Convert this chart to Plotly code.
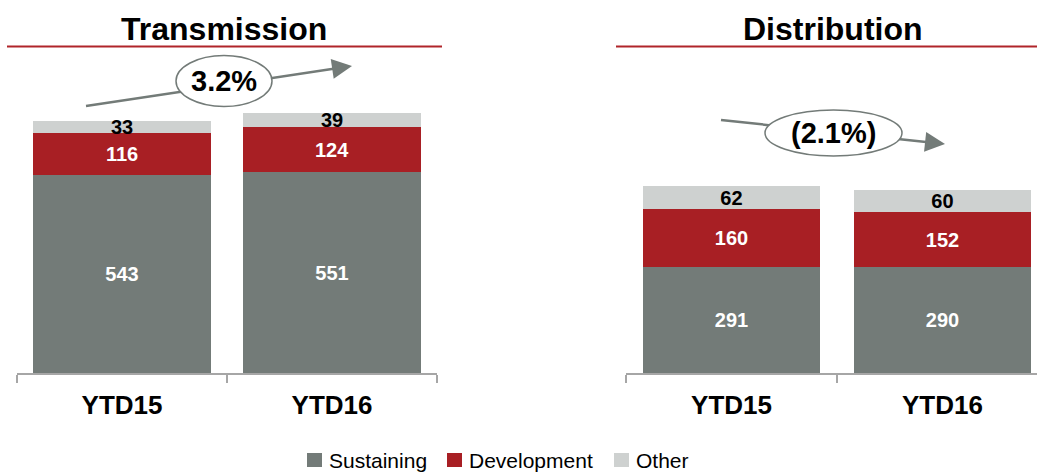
import plotly.graph_objects as go

W, H = 1037, 472
OFF = 0  # page body margin removed by post_script

categories = ["YTD15", "YTD16"]
series_names = ["Sustaining", "Development", "Other"]
trans_sustaining = [543, 551]
trans_development = [116, 124]
trans_other = [33, 39]
dist_sustaining = [291, 290]
dist_development = [160, 152]
dist_other = [62, 60]
panel_titles = ["Transmission", "Distribution"]
growth_labels = ["3.2%", "(2.1%)"]

colors = {"Sustaining": "#737B78", "Development": "#A81F24", "Other": "#CED1D0"}
text_colors = {"Sustaining": "white", "Development": "white", "Other": "black"}
FONT = "Liberation Sans, Arial, sans-serif"


def X(px):
    return (px - OFF) / W


def Y(py):
    return (H - (py - OFF)) / H


fig = go.Figure()

panels = [
    ("x", "y", [trans_sustaining, trans_development, trans_other]),
    ("x2", "y2", [dist_sustaining, dist_development, dist_other]),
]
for xa, ya, vals in panels:
    for name, v in zip(series_names, vals):
        fig.add_trace(go.Bar(
            x=categories, y=v, name=name, xaxis=xa, yaxis=ya,
            marker=dict(color=colors[name], line=dict(width=0)),
            texttemplate="<b>%{y}</b>", textposition="inside",
            insidetextanchor="middle",
            textfont=dict(size=20, color=text_colors[name], family=FONT),
            showlegend=False, hoverinfo="skip",
        ))

ydom = [Y(373), Y(100)]
axis_common = dict(
    type="category", showline=True, linecolor="#A6A6A6", linewidth=1.5,
    ticks="outside", tickson="boundaries", ticklen=8, tickcolor="#A6A6A6",
    tickwidth=1.5, showgrid=False, zeroline=False,
    tickfont=dict(size=26, color="black", family=FONT, weight="bold"),
    ticklabelstandoff=8, fixedrange=True,
)
yaxis_common = dict(range=[0, 750], visible=False, showgrid=False,
                    zeroline=False, domain=ydom, fixedrange=True)

fig.update_layout(
    width=W, height=H,
    margin=dict(l=0, r=0, t=0, b=0, autoexpand=False),
    paper_bgcolor="white", plot_bgcolor="white",
    barmode="stack", bargap=0.157,
    uniformtext=dict(minsize=20, mode="show"),
    showlegend=False,
    xaxis=dict(domain=[X(17), X(437)], range=[-0.5, 1.5], **axis_common),
    xaxis2=dict(domain=[X(626), 1.0], range=[-0.5, 1.448], anchor="y2", **axis_common),
    yaxis=dict(anchor="x", **yaxis_common),
    yaxis2=dict(anchor="x2", **yaxis_common),
    font=dict(family=FONT),
)

shapes = []
annotations = []
# title underlines
shapes.append(dict(type="line", xref="paper", yref="paper",
                   x0=X(7), x1=X(442), y0=Y(46.5), y1=Y(46.5),
                   line=dict(color="#B0252A", width=2)))
shapes.append(dict(type="line", xref="paper", yref="paper",
                   x0=X(616), x1=1.0, y0=Y(46.5), y1=Y(46.5),
                   line=dict(color="#B0252A", width=2)))
for t, cx in zip(panel_titles, [224, 832.5]):
    annotations.append(dict(text="<b>%s</b>" % t, xref="paper", yref="paper",
                            x=X(cx), y=Y(29), xanchor="center", yanchor="middle",
                            showarrow=False,
                            font=dict(size=32, color="black", family=FONT)))

arrow_col = "#737B78"
arrows = [
    # start, tip, ellipse box, label center
    ((86, 106), (352, 66), (176, 55.5, 272, 106.5), (224, 81)),
    ((721, 120), (945, 144), (765, 110, 902, 156), (833, 133)),
]
for (sx, sy), (tx, ty), (ex0, ey0, ex1, ey1), (lx, ly) in arrows:
    dx, dy = tx - sx, ty - sy
    L = (dx ** 2 + dy ** 2) ** 0.5
    ux, uy = dx / L, dy / L
    bx, by = tx - 12 * ux, ty - 12 * uy
    shapes.append(dict(type="line", xref="paper", yref="paper",
                       x0=X(sx), y0=Y(sy), x1=X(bx), y1=Y(by),
                       line=dict(color=arrow_col, width=2.5)))
    annotations.append(dict(text="", xref="paper", yref="paper",
                            x=X(tx), y=Y(ty), ax=-20 * ux, ay=-20 * uy,
                            axref="pixel", ayref="pixel",
                            showarrow=True, arrowhead=2, arrowsize=1.6,
                            arrowwidth=2.5, arrowcolor=arrow_col))
    shapes.append(dict(type="circle", xref="paper", yref="paper",
                       x0=X(ex0), x1=X(ex1), y0=Y(ey1), y1=Y(ey0),
                       fillcolor="white", line=dict(color=arrow_col, width=1.5)))

for g, (_, _, _, (lx, ly)) in zip(growth_labels, arrows):
    annotations.append(dict(text="<b>%s</b>" % g, xref="paper", yref="paper",
                            x=X(lx), y=Y(ly), xanchor="center", yanchor="middle",
                            showarrow=False,
                            font=dict(size=29, color="black", family=FONT)))

# legend (swatch + label), placed along the bottom
legend_x = [307, 447, 614]
legend_cy = 460
for name, lx in zip(series_names, legend_x):
    shapes.append(dict(type="rect", xref="paper", yref="paper",
                       x0=X(lx), x1=X(lx + 15), y0=Y(legend_cy + 7), y1=Y(legend_cy - 7),
                       fillcolor=colors[name], line=dict(width=0)))
    annotations.append(dict(text=name, xref="paper", yref="paper",
                            x=X(lx + 20), y=Y(legend_cy), xanchor="left",
                            yanchor="middle", showarrow=False,
                            font=dict(size=21, color="black", family=FONT)))

fig.update_layout(shapes=shapes, annotations=annotations)
fig.write_html(
    "out.html",
    config={"displayModeBar": False},
    post_script="document.body.style.margin='0';document.body.style.overflow='hidden';",
)
